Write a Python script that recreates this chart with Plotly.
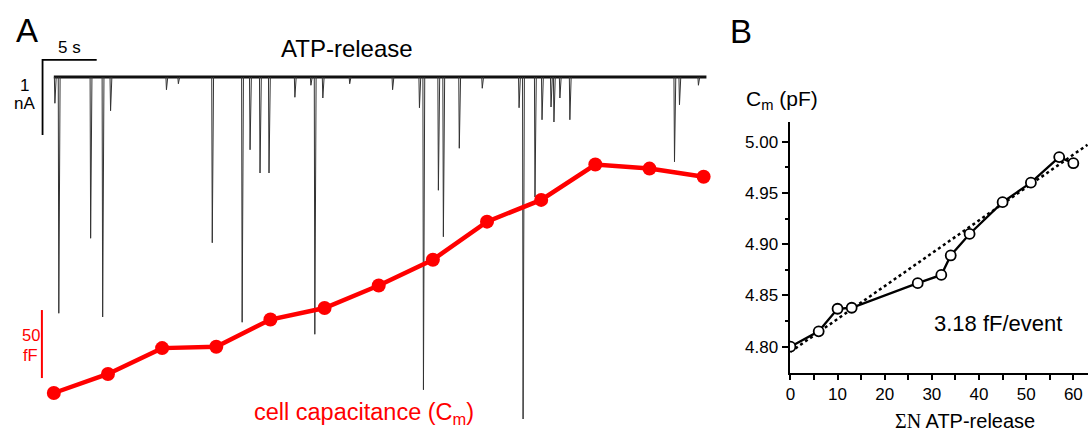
import plotly.graph_objects as go

W, H = 1088, 433

# ---------------- Panel A data ----------------
# ATP-release events: time (s) and current amplitude (nA, inward)
event_t = [0.10, 0.46, 3.40, 4.51, 5.24, 10.40, 11.50, 14.63, 17.39, 18.12, 19.04, 19.87,
           22.26, 23.74, 24.10, 24.84, 27.32, 31.28, 33.76, 34.13, 35.51, 35.97, 37.44,
           39.56, 42.96, 43.33, 44.43, 45.08, 45.91, 46.18, 46.73, 47.65, 57.31, 57.77, 59.52]
event_amp = [0.35, 3.15, 2.15, 3.20, 0.45, 0.17, 0.09, 2.21, 3.27, 0.97, 1.28, 1.28,
             0.27, 0.11, 3.43, 0.28, 0.09, 0.17, 0.41, 4.17, 1.51, 2.13, 0.95,
             0.15, 0.41, 4.56, 1.60, 0.57, 0.40, 0.60, 0.28, 0.57, 1.13, 0.37, 0.11]
trace_start, trace_end = 0.0, 60.26

# cell capacitance (pF) every 5 s
cm_time = [0, 5, 10, 15, 20, 25, 30, 35, 40, 45, 50, 55, 60]
cm_vals = [4.800, 4.814, 4.833, 4.834, 4.854, 4.8625, 4.879, 4.898, 4.926, 4.942, 4.968, 4.965, 4.959]

# ---------------- Panel B data ----------------
sumN = [0, 6, 10, 13, 27, 32, 34, 38, 45, 51, 57, 60]
cm_b = [4.800, 4.815, 4.837, 4.838, 4.862, 4.870, 4.889, 4.910, 4.941, 4.960, 4.985, 4.979]
fit_x = [0, 63]
fit_y = [4.795, 4.997]
xticks_b = [0, 10, 20, 30, 40, 50, 60]
yticks_b = [4.80, 4.85, 4.90, 4.95, 5.00]

# ---------------- pixel geometry ----------------
PX_PER_S = 10.87
T0_PX = 50
BASE_PX = 77
PX_PER_NA = 75
CM0_PX = 393
PX_PER_PF = 68 / 0.05

def px(x):
    return x / W

def py(y):
    return 1 - y / H

fig = go.Figure()

# baseline (thick, noisy-looking)
fig.add_trace(go.Scatter(x=[trace_start, trace_end], y=[0, 0], mode="lines",
                         line=dict(color="#111", width=3), xaxis="x", yaxis="y",
                         showlegend=False, hoverinfo="skip"))
# spikes
sx, sy = [], []
for t, a in zip(event_t, event_amp):
    sx += [t - 0.05, t, t + 0.12, None]
    sy += [0, -a, 0, None]
fig.add_trace(go.Scatter(x=sx, y=sy, mode="lines", line=dict(color="#333", width=1),
                         xaxis="x", yaxis="y", showlegend=False, hoverinfo="skip",
                         connectgaps=False))
# scale bar 5 s / 1 nA
fig.add_trace(go.Scatter(x=[-1.04 + 5, -1.04, -1.04], y=[0.227, 0.227, 0.227 - 1],
                         mode="lines", line=dict(color="black", width=1.8),
                         xaxis="x", yaxis="y", showlegend=False, hoverinfo="skip"))
# capacitance
fig.add_trace(go.Scatter(x=cm_time, y=cm_vals, mode="lines+markers",
                         line=dict(color="#ff0000", width=4.5),
                         marker=dict(color="#ff0000", size=14),
                         xaxis="x", yaxis="y2", showlegend=False, hoverinfo="skip"))
# 50 fF scale bar
fig.add_trace(go.Scatter(x=[-1.10, -1.10], y=[4.811, 4.861], mode="lines",
                         line=dict(color="#ff0000", width=2),
                         xaxis="x", yaxis="y2", showlegend=False, hoverinfo="skip"))

# Panel B
fig.add_trace(go.Scatter(x=fit_x, y=fit_y, mode="lines",
                         line=dict(color="black", width=2.5, dash="dot"),
                         xaxis="x3", yaxis="y3", showlegend=False, hoverinfo="skip"))
fig.add_trace(go.Scatter(x=sumN, y=cm_b, mode="lines+markers",
                         line=dict(color="black", width=2.3),
                         marker=dict(symbol="circle", size=10, color="white",
                                     line=dict(color="black", width=1.8)),
                         xaxis="x3", yaxis="y3", showlegend=False, hoverinfo="skip"))

xA_lo = (0 - T0_PX) / PX_PER_S
xA_hi = (740 - T0_PX) / PX_PER_S
yA_lo = -(H - BASE_PX) / PX_PER_NA
yA_hi = BASE_PX / PX_PER_NA
y2_lo = 4.800 - (H - CM0_PX) / PX_PER_PF
y2_hi = 4.800 + CM0_PX / PX_PER_PF

hidden = dict(visible=False, showgrid=False, zeroline=False, fixedrange=True)

# Panel B geometry
bx0, bx1 = 788.5, 1088
by_top, by_bot = 121.7, 372.5
b_px_per_unit = 4.733
b_px_per_pf = 51.25 / 0.05
b_x_lo = (bx0 - 789.3) / b_px_per_unit
b_x_hi = (bx1 - 789.3) / b_px_per_unit
b_y_lo = 4.80 - (by_bot - 346.7) / b_px_per_pf
b_y_hi = 4.80 + (346.7 - by_top) / b_px_per_pf

font = "Liberation Sans, Arial, sans-serif"

fig.update_layout(
    width=W, height=H, margin=dict(l=0, r=0, t=0, b=0),
    paper_bgcolor="white", plot_bgcolor="rgba(0,0,0,0)",
    font=dict(family=font, color="black"),
    xaxis=dict(domain=[0, 740 / W], range=[xA_lo, xA_hi], **hidden),
    yaxis=dict(domain=[0, 1], range=[yA_lo, yA_hi], **hidden),
    yaxis2=dict(overlaying="y", range=[y2_lo, y2_hi], anchor="x", **hidden),
    xaxis3=dict(domain=[px(bx0), px(bx1)], range=[b_x_lo, b_x_hi], anchor="y3",
                showline=True, linecolor="black", linewidth=2.2,
                ticks="outside", ticklen=5, tickwidth=1.5, tickcolor="black",
                tickvals=xticks_b, ticktext=[str(v) for v in xticks_b],
                minor=dict(tickvals=[5, 15, 25, 35, 45, 55], ticks="outside", ticklen=5,
                           tickwidth=1.5, tickcolor="black"),
                tickfont=dict(size=17, family=font), showgrid=False, zeroline=False,
                fixedrange=True),
    yaxis3=dict(domain=[py(by_bot), py(by_top)], range=[b_y_lo, b_y_hi], anchor="x3",
                showline=True, linecolor="black", linewidth=2.2,
                ticks="outside", ticklen=6, tickwidth=1.5, tickcolor="black",
                tickvals=yticks_b, ticktext=["%.2f" % v for v in yticks_b],
                minor=dict(tickvals=[4.825, 4.875, 4.925, 4.975], ticks="outside",
                           ticklen=3, tickwidth=1.5, tickcolor="black"),
                tickfont=dict(size=17, family=font), showgrid=False, zeroline=False,
                fixedrange=True),
)

ann = []
def text(x, y, s, size, color="black", xanchor="center", fam=font):
    ann.append(dict(x=px(x), y=py(y), xref="paper", yref="paper", text=s,
                    showarrow=False, xanchor=xanchor, yanchor="middle",
                    font=dict(size=size, color=color, family=fam)))

text(23, 30, "A", 33)
text(740, 32, "B", 33)
text(66, 47, "5 s", 17)
text(21, 86, "1", 17)
text(21, 104, "nA", 17)
text(344, 49, "ATP-release", 24)
text(27, 335, "50", 16.5, color="#ff0000")
text(27, 355, "fF", 16.5, color="#ff0000")
text(361, 413, "cell capacitance (C<sub>m</sub>)", 23.5, color="#ff0000")
text(781, 100, "C<sub>m</sub> (pF)", 21)
text(998, 323, "3.18 fF/event", 22)
text(965, 421, "<span style='font-family:Liberation Serif, Times New Roman, serif'>ΣN</span> ATP-release", 20)

fig.update_layout(annotations=ann)

fig.write_html("out.html", config={"displayModeBar": False},
               post_script="document.body.style.margin='0';document.body.style.padding='0';")
